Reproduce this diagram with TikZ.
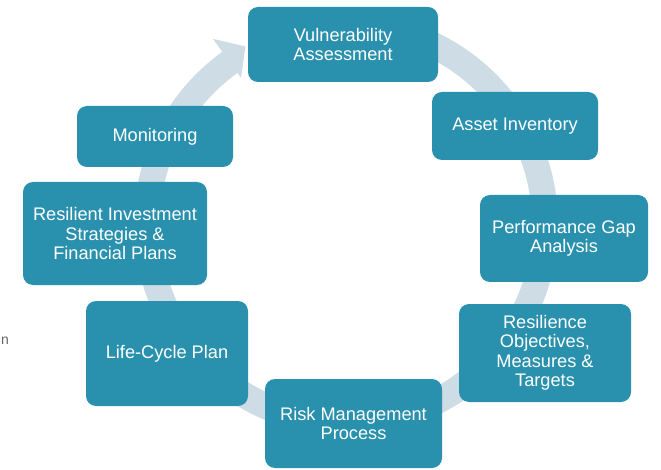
\documentclass[tikz,border=0pt]{standalone}
\usepackage{fontspec}
\setmainfont{Liberation Sans}
\definecolor{boxteal}{RGB}{41,145,173}
\definecolor{ringgray}{RGB}{206,221,229}
\begin{document}
\begin{tikzpicture}[x=1pt,y=1pt,
  stagebox/.style={fill=boxteal, rounded corners=10pt, text=white, align=center,
    inner sep=0pt, font=\fontsize{18.2}{19.5}\selectfont},
  ring/.style={fill=ringgray}]
\useasboundingbox (0,0) rectangle (661,469);
% circular arrow
\begin{scope}[shift={(346pt,245pt)}]
\fill[ring] (100:212pt) arc[start angle=100, end angle=-234.3, radius=212pt]
  -- (-234.3:228pt) -- (-240.5:204pt) -- (-234.3:180pt) -- (-234.3:186pt)
  arc[start angle=-234.3, end angle=100, radius=186pt] -- cycle;
\end{scope}
% stages
\node[stagebox, minimum width=190pt, minimum height=75pt] (va) at (343,424.5) {Vulnerability\\Assessment};
\node[stagebox, minimum width=166pt, minimum height=68pt] (ai) at (515,343) {Asset Inventory};
\node[stagebox, minimum width=168pt, minimum height=87pt] (pg) at (564,230.5) {Performance Gap\\Analysis};
\node[stagebox, minimum width=172pt, minimum height=98pt] (ro) at (545,116) {Resilience\\Objectives,\\Measures \&\\Targets};
\node[stagebox, minimum width=177pt, minimum height=89pt] (rm) at (353.5,45.5) {Risk Management\\Process};
\node[stagebox, minimum width=162pt, minimum height=105pt] (lc) at (167,115.5) {Life-Cycle Plan};
\node[stagebox, minimum width=184pt, minimum height=103pt] (ri) at (115,235.5) {Resilient Investment\\Strategies \&\\Financial Plans};
\node[stagebox, minimum width=156pt, minimum height=61pt] (mo) at (155,332.5) {Monitoring};
% cut-off text fragment at left edge
\node[text=black!60, font=\fontsize{14}{16}\selectfont, inner sep=0pt] (frag) at (5,128) {n};
\end{tikzpicture}
\end{document}
